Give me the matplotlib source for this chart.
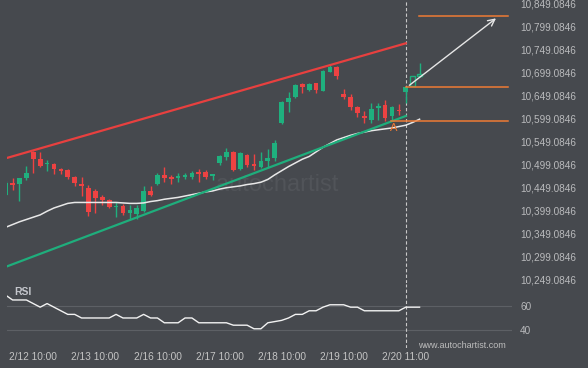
import numpy as np
import matplotlib.pyplot as plt
from matplotlib.ticker import FixedLocator, FuncFormatter

# candles: index, open, high, low, close
opens = [10433, 10460, 10457, 10470, 10527, 10511, 10500, 10501, 10490, 10488,
         10472, 10458, 10448, 10443, 10428, 10422, 10407, 10410, 10394, 10392,
         10398, 10442, 10457, 10477, 10472, 10471, 10473, 10472, 10483, 10484,
         10475, 10502, 10516, 10527, 10489, 10520, 10500, 10495, 10507, 10513,
         10589, 10636, 10646, 10674, 10661, 10676, 10660, 10701, 10712, 10653,
         10647, 10624, 10605, 10596, 10623, 10629, 10604, 10619, 10658]
highs = [10464, 10470, 10470, 10496, 10529, 10527, 10509, 10503, 10493, 10490,
         10475, 10472, 10455, 10446, 10433, 10425, 10419, 10414, 10412, 10412,
         10452, 10452, 10481, 10495, 10477, 10480, 10482, 10485, 10489, 10488,
         10477, 10520, 10535, 10529, 10527, 10522, 10522, 10526, 10533, 10553,
         10638, 10658, 10675, 10677, 10677, 10677, 10705, 10716, 10714, 10663,
         10653, 10627, 10615, 10634, 10634, 10640, 10626, 10631, 10668]
lows = [10433, 10444, 10421, 10466, 10480, 10494, 10485, 10479, 10479, 10467,
        10453, 10431, 10388, 10395, 10412, 10405, 10386, 10390, 10381, 10381,
        10396, 10431, 10455, 10462, 10457, 10462, 10469, 10468, 10462, 10467,
        10466, 10498, 10509, 10485, 10487, 10494, 10487, 10492, 10492, 10507,
        10588, 10614, 10644, 10654, 10659, 10655, 10659, 10700, 10685, 10642,
        10618, 10603, 10590, 10589, 10596, 10594, 10595, 10607, 10633]
closes = [10460, 10456, 10470, 10482, 10511, 10497, 10503, 10490, 10486, 10473,
          10460, 10453, 10397, 10426, 10422, 10408, 10410, 10395, 10401, 10405,
          10442, 10433, 10477, 10470, 10469, 10474, 10477, 10482, 10479, 10472,
          10477, 10517, 10527, 10488, 10524, 10498, 10497, 10507, 10513, 10547,
          10636, 10645, 10672, 10667, 10675, 10661, 10703, 10712, 10692, 10647,
          10625, 10611, 10601, 10620, 10627, 10601, 10624, 10615, 10667]

# candles formed after the pattern was found (drawn hollow)
post_opens = [10670, 10692]
post_highs = [10692, 10720]
post_lows = [10670, 10690]
post_closes = [10692, 10697]

# moving average
ma = [10363, 10369, 10375, 10380, 10385, 10390, 10398, 10405, 10410, 10415,
      10417, 10417, 10417, 10417, 10417, 10417, 10417, 10416, 10415, 10415,
      10416, 10419, 10421, 10424, 10426, 10428, 10431, 10434, 10437, 10440,
      10442, 10446, 10449, 10451, 10453, 10456, 10458, 10461, 10467, 10477,
      10486, 10495, 10503, 10511, 10517, 10527, 10537, 10545, 10553, 10558,
      10563, 10567, 10570, 10573, 10575, 10577, 10579, 10582, 10585, 10591, 10598]

rsi = [69, 65, 65, 65, 62, 59, 62, 59, 56, 53, 53, 50, 50, 50, 50, 50, 53, 50,
       50, 50, 53, 50, 50, 46, 46, 46, 50, 50, 46, 46, 46, 46, 46, 44, 44, 44,
       41, 41, 46, 47, 48, 50, 53, 53, 56, 56, 59, 61, 61, 61, 59, 59, 56, 56,
       56, 56, 56, 56, 59, 59, 59]

# channel (resistance / support) end points
res_x = [0, 58]
res_y = [10513, 10763]
sup_x = [0, 58]
sup_y = [10277, 10605]

# forecast levels: (start index, price)
levels = [(59.9, 10822), (58.0, 10668.7), (55.9, 10594)]
arrow_from = (58.2, 10668)
arrow_to = (71.4, 10821)
a_mark = (56.3, 10578)
pattern_end = 58

tick_idx = [4, 13, 22, 31, 40, 49, 58]
tick_lab = ['2/12 10:00', '2/13 10:00', '2/16 10:00', '2/17 10:00',
            '2/18 10:00', '2/19 10:00', '2/20 11:00']
price_ticks = [10249.0846 + 50 * k for k in range(13)]

BG = '#46494e'
GREEN = '#1fb07e'
RED = '#ee4242'
ORANGE = '#ef7b35'
TXT = '#b9babc'

plt.rcParams['font.family'] = ['Liberation Sans', 'DejaVu Sans']

fig = plt.figure(figsize=(5.88, 3.68), dpi=100, facecolor=BG)
W, H = 588.0, 368.0
ax = fig.add_axes([7 / W, 1 - 283 / H, 505 / W, 283 / H])
rax = fig.add_axes([7 / W, 1 - 348 / H, 505 / W, 64 / H])
xlim = (0.19, 73.4)

for a in (ax, rax):
    a.set_facecolor(BG)
    for s in a.spines.values():
        s.set_visible(False)
    a.set_xlim(*xlim)

ax.set_ylim(10857.15 - 2.174 * 283, 10857.15)

# watermark
ax.text(0.535, 0.345, 'autochartist', transform=ax.transAxes, fontsize=17,
        color='#515459', ha='center', va='center', zorder=0)

# candles
n = len(opens)
x = np.arange(n)
o = np.array(opens); c = np.array(closes)
col = [GREEN if c[i] >= o[i] else RED for i in range(n)]
ax.vlines(x, lows, highs, colors=col, lw=1, zorder=3)
body = np.maximum(np.abs(c - o), 3)
ax.bar(x, body, bottom=np.minimum(o, c), width=0.68, color=col, zorder=4)

px = np.arange(n, n + len(post_opens))
ax.vlines(px, post_lows, post_highs, colors=GREEN, lw=1, zorder=3)
ax.bar(px, np.abs(np.array(post_closes) - np.array(post_opens)),
       bottom=np.minimum(post_opens, post_closes), width=0.68,
       facecolor=BG, edgecolor=GREEN, lw=1, zorder=4)

# moving average
ax.plot(np.arange(len(ma)), ma, color='#e8e8e8', lw=1.1, zorder=5)

# channel
ax.plot(res_x, res_y, color='#e8403f', lw=1.6, zorder=6)
ax.plot(sup_x, sup_y, color='#1fae7c', lw=1.6, zorder=6)

# forecast
for start, lvl in levels:
    ax.plot([start, 72.8], [lvl, lvl], color=ORANGE, lw=1.1, zorder=6)
ax.annotate('', xy=arrow_to, xytext=arrow_from,
            arrowprops=dict(arrowstyle='->', color='#e6e6e6', lw=1,
                            mutation_scale=12), zorder=7)
ax.text(*a_mark, 'A', color=ORANGE, fontsize=8, ha='center', va='center',
        zorder=8)

ax.axvline(pattern_end, color='#c8c8c8', lw=0.8, ls=(0, (3, 2)), zorder=2)
rax.axvline(pattern_end, color='#c8c8c8', lw=0.8, ls=(0, (3, 2)), zorder=2)

ax.yaxis.tick_right()
ax.yaxis.set_major_locator(FixedLocator(price_ticks))
ax.yaxis.set_major_formatter(FuncFormatter(lambda v, p: f'{v:,.4f}'))
ax.tick_params(axis='y', length=0, pad=5.8, labelsize=7.2, labelcolor=TXT)
for lab in ax.get_yticklabels():
    lab.set_horizontalalignment('left')
ax.set_xticks([])

# RSI panel
rax.set_ylim(25, 78.3)
for g in (40, 60):
    rax.axhline(g, color='#5d6065', lw=0.8, zorder=1)
rax.plot(np.arange(len(rsi)), rsi, color='#f2f2f2', lw=1, zorder=3)
rax.yaxis.tick_right()
rax.set_yticks([40, 60])
rax.tick_params(axis='y', length=0, pad=5.8, labelsize=7.2, labelcolor=TXT)
rax.set_xticks(tick_idx)
rax.set_xticklabels(tick_lab)
rax.tick_params(axis='x', length=0, pad=3.0, labelsize=7.3, labelcolor='#c4c4c4')
rax.text(0.014, 0.88, 'RSI', transform=rax.transAxes, fontsize=7.5,
         fontweight='bold', color='#c4c6cc', ha='left', va='center')

fig.text(506 / W, 1 - 345 / H, 'www.autochartist.com', fontsize=6.5,
         color='#bdbdbd', ha='right', va='center')

fig.savefig('out.png', dpi=100, facecolor=BG)
